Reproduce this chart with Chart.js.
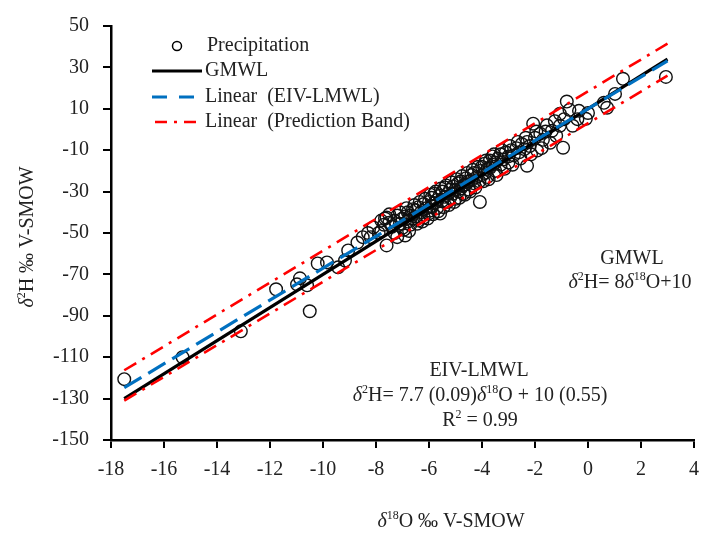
<!DOCTYPE html>
<html>
<head>
<meta charset="utf-8">
<script src="https://cdn.jsdelivr.net/npm/chart.js@4.4.1/dist/chart.umd.min.js"></script>
<style>
  html, body { margin: 0; padding: 0; background: #fff; }
  #wrap { width: 711px; height: 534px; }
</style>
</head>
<body>
<div id="wrap"><canvas id="grafico" width="711" height="534"></canvas></div>
<script>
// valores
const xTicks = [-18, -16, -14, -12, -10, -8, -6, -4, -2, 0, 2, 4];
const yTicks = [-150, -130, -110, -90, -70, -50, -30, -10, 10, 30, 50];

const precipitation = [
  [-17.5,-120.6],[-15.3,-110],[-13.1,-97.5],[-11.77,-77.2],[-10.98,-74.8],[-10.87,-71.9],
  [-10.6,-75.3],[-10.5,-87.8],[-10.2,-64.7],[-9.85,-64.2],[-9.43,-66.6],[-9.17,-63.3],
  [-9.05,-58.4],[-8.7,-54.6],[-8.5,-52],[-8.3,-50],
  [-8.2,-52],[-8.1,-47.3],[-7.9,-50],[-7.8,-49],[-7.7,-46],[-7.66,-43],[-7.6,-56],[-7.6,-42.5],
  [-7.5,-45],[-7.4,-47],[-7.3,-44],[-7.2,-52],[-7.2,-41.6],[-7.1,-45.5],[-7.0,-43],[-7.0,-47.5],
  [-6.9,-51.2],[-6.9,-42],[-6.8,-44.5],[-6.8,-40],[-6.7,-46],[-6.7,-41.5],[-6.6,-43],[-6.6,-38.5],
  [-6.5,-42],[-6.5,-39],[-6.4,-44],[-6.4,-37.5],[-6.3,-40],[-6.2,-42.5],[-6.2,-36],[-6.1,-38],
  [-6.0,-40.5],[-6.0,-35],[-5.96,-39.2],[-5.9,-33],[-5.9,-37],[-5.8,-35.5],[-5.8,-31],[-5.7,-34],
  [-5.7,-38],[-5.6,-32],[-5.58,-40.6],[-5.5,-30],[-5.5,-34.5],[-5.4,-28],[-5.4,-32.5],[-5.3,-31],
  [-5.3,-35],[-5.2,-29],[-5.2,-33],[-5.1,-27.5],[-5.1,-31],[-5.0,-29],[-5.0,-33.5],[-4.9,-26],
  [-4.9,-30],[-4.8,-25],[-4.8,-28.5],[-4.7,-27],[-4.7,-31],[-4.6,-23.5],[-4.6,-26.5],[-4.5,-25],
  [-4.5,-29],[-4.4,-22],[-4.4,-24.5],[-4.3,-21],[-4.3,-26],[-4.2,-23],[-4.1,-20],[-4.1,-25],
  [-4.08,-35],[-4.0,-22],[-4.0,-18],[-3.9,-21],[-3.9,-16.5],[-3.8,-19],[-3.8,-23],[-3.7,-15],
  [-3.7,-18.5],[-3.6,-17],[-3.6,-13],[-3.5,-16],[-3.5,-20],[-3.4,-14],[-3.3,-12],[-3.3,-17],
  [-3.2,-14.5],[-3.1,-11],[-3.0,-13],[-3.0,-16],[-2.9,-10],[-2.8,-12.5],[-2.7,-9],[-2.6,-11],
  [-2.5,-7],[-2.4,-9.5],[-2.3,-17.5],[-2.3,-6],[-2.2,-8],[-2.07,2.8],[-2.0,-4],[-1.92,-10.2],
  [-1.8,-2],[-1.7,-5],[-1.6,-1],[-1.43,-6.4],[-1.36,-0.6],[-1.2,-3],[-1.06,1.8],[-1.06,7.6],
  [-0.94,-8.8],[-0.8,13.5],[-0.7,9.5],[-0.58,1.8],[-0.4,5],[-0.34,9],[-0.08,5.2],[0.0,8],
  [0.6,12.9],[0.72,10.5],[1.02,17.2],[1.32,24.5],[2.94,25.4],
  [-7.8,-44],[-7.5,-41],[-7.3,-50],[-7.1,-40],[-6.95,-48.5],[-6.85,-38],[-6.75,-49],[-6.55,-36.5],
  [-6.45,-45.5],[-6.35,-35],[-6.25,-44.5],[-6.15,-33.5],[-6.05,-43],[-5.95,-31.5],[-5.85,-41],
  [-5.75,-30],[-5.65,-39.5],[-5.55,-28.5],[-5.45,-37.5],[-5.35,-27],[-5.25,-36.5],[-5.15,-25.5],
  [-5.05,-35],[-4.95,-24],[-4.85,-33],[-4.75,-22.5],[-4.65,-31.5],[-4.55,-21],[-4.45,-30],
  [-4.35,-19.5],[-4.25,-28],[-4.15,-18],[-3.95,-25],[-3.85,-15],[-3.75,-24],[-3.55,-12],
  [-3.45,-22],[-3.25,-10],[-3.15,-19],[-2.95,-8],[-2.85,-17],[-2.65,-6],[-2.55,-14],[-2.35,-4],
  [-2.15,-12],[-1.95,-1],[-1.75,-9],[-1.55,2],[-1.25,4],[-0.9,5]
];

// retas: extremos em x e respectivos valores de δ2H
const lineX = [-17.5, 3];
const gmwlY = [-130, 34];
const eivY = [-124.75, 33.1];
const bandUpperY = [-116.3, 41.5];
const bandLowerY = [-131, 26];

const FONT = '"Liberation Serif", "Times New Roman", serif';
const FS = 20;
const BLUE = '#0070C0';
const RED = '#FF0000';

function linha(ys) {
  return lineX.map((x, i) => ({ x: x, y: ys[i] }));
}

// desenha texto com partes em itálico / sobrescrito, centrado em cx
function textoRico(ctx, partes, cx, cy, size) {
  const fonte = (p) => (p.it ? 'italic ' : '') + (p.sup ? Math.round(size * 0.62) : size) + 'px ' + FONT;
  let total = 0;
  partes.forEach(p => { ctx.font = fonte(p); total += ctx.measureText(p.t).width; });
  let x = cx - total / 2;
  ctx.textBaseline = 'middle';
  ctx.textAlign = 'left';
  partes.forEach(p => {
    ctx.font = fonte(p);
    ctx.fillText(p.t, x, p.sup ? cy - size * 0.3 : cy);
    x += ctx.measureText(p.t).width;
  });
}

const anotacoes = {
  id: 'anotacoes',
  afterDraw(chart) {
    const ctx = chart.ctx;
    ctx.save();
    ctx.fillStyle = '#222';

    // legenda
    const lx0 = 152, lx1 = 202, tx = 207;
    const rows = [46, 71, 97, 122];
    ctx.strokeStyle = '#000';
    ctx.lineWidth = 1.5;
    ctx.beginPath(); ctx.arc(177, rows[0], 4.5, 0, Math.PI * 2); ctx.stroke();
    ctx.lineWidth = 3;
    ctx.beginPath(); ctx.moveTo(lx0, rows[1]); ctx.lineTo(lx1, rows[1]); ctx.stroke();
    ctx.strokeStyle = BLUE;
    ctx.setLineDash([15, 12]);
    ctx.beginPath(); ctx.moveTo(lx0, rows[2]); ctx.lineTo(lx1, rows[2]); ctx.stroke();
    ctx.strokeStyle = RED;
    ctx.lineWidth = 2.5;
    ctx.setLineDash([12, 7, 3, 7]);
    ctx.beginPath(); ctx.moveTo(lx0 + 3, rows[3]); ctx.lineTo(lx1 - 4, rows[3]); ctx.stroke();
    ctx.setLineDash([]);
    ctx.font = FS + 'px ' + FONT;
    ctx.textBaseline = 'middle';
    ctx.textAlign = 'left';
    ctx.fillText('Precipitation', tx, rows[0]);
    ctx.fillText('GMWL', tx - 2, rows[1]);
    ctx.fillText('Linear  (EIV-LMWL)', tx - 2, rows[2]);
    ctx.fillText('Linear  (Prediction Band)', tx - 2, rows[3]);

    // equações
    textoRico(ctx, [{ t: 'GMWL' }], 632, 259, FS);
    textoRico(ctx, [{ t: 'δ', it: true }, { t: '2', sup: true }, { t: 'H= 8' }, { t: 'δ', it: true },
      { t: '18', sup: true }, { t: 'O+10' }], 630, 283, FS);
    textoRico(ctx, [{ t: 'EIV-LMWL' }], 479, 371, FS);
    textoRico(ctx, [{ t: 'δ', it: true }, { t: '2', sup: true }, { t: 'H= 7.7 (0.09)' }, { t: 'δ', it: true },
      { t: '18', sup: true }, { t: 'O + 10 (0.55)' }], 480, 396, FS);
    textoRico(ctx, [{ t: 'R' }, { t: '2', sup: true }, { t: ' = 0.99' }], 480, 421, FS);

    // títulos dos eixos
    textoRico(ctx, [{ t: 'δ', it: true }, { t: '18', sup: true }, { t: 'O ‰ V-SMOW' }], 451, 522, FS);
    ctx.translate(28, 237);
    ctx.rotate(-Math.PI / 2);
    textoRico(ctx, [{ t: 'δ', it: true }, { t: '2', sup: true }, { t: 'H ‰ V-SMOW' }], 0, 0, FS);
    ctx.restore();
  }
};

const ctx = document.getElementById('grafico').getContext('2d');
new Chart(ctx, {
  type: 'scatter',
  data: {
    datasets: [
      {
        label: 'Precipitation',
        data: precipitation.map(p => ({ x: p[0], y: p[1] })),
        pointStyle: 'circle', pointRadius: 6.3, pointBorderWidth: 1.4,
        borderColor: '#111', backgroundColor: 'rgba(0,0,0,0)', order: 4
      },
      {
        label: 'GMWL', type: 'line', data: linha(gmwlY),
        borderColor: '#000', borderWidth: 3.2, pointRadius: 0, order: 3
      },
      {
        label: 'Linear (Prediction Band)', type: 'line', data: linha(bandUpperY),
        borderColor: RED, borderWidth: 2.6, borderDash: [14, 7, 3, 7], pointRadius: 0, order: 2
      },
      {
        label: 'Linear (Prediction Band) ', type: 'line', data: linha(bandLowerY),
        borderColor: RED, borderWidth: 2.6, borderDash: [14, 7, 3, 7], pointRadius: 0, order: 2
      },
      {
        label: 'Linear (EIV-LMWL)', type: 'line', data: linha(eivY),
        borderColor: BLUE, borderWidth: 3.2, borderDash: [20, 8], pointRadius: 0, order: 1
      }
    ]
  },
  options: {
    responsive: false,
    animation: false,
    devicePixelRatio: 1,
    layout: { padding: { left: 0, right: 17, top: 25, bottom: 0 } },
    plugins: { legend: { display: false }, tooltip: { enabled: false } },
    scales: {
      x: {
        type: 'linear', min: -18, max: 4,
        afterFit: (s) => { s.height = 94; },
        afterBuildTicks: (s) => { s.ticks = xTicks.map(v => ({ value: v })); },
        ticks: { color: '#222', font: { family: FONT, size: FS }, padding: 10 },
        grid: { drawOnChartArea: false, drawTicks: true, tickLength: 8, color: '#000', lineWidth: 2 },
        border: { color: '#000', width: 2.5 }
      },
      y: {
        type: 'linear', min: -150, max: 50,
        afterFit: (s) => { s.width = 111; },
        afterBuildTicks: (s) => { s.ticks = yTicks.map(v => ({ value: v })); },
        ticks: { color: '#222', font: { family: FONT, size: FS }, padding: 14 },
        grid: { drawOnChartArea: false, drawTicks: true, tickLength: 8, color: '#000', lineWidth: 2 },
        border: { color: '#000', width: 2.5 }
      }
    }
  },
  plugins: [anotacoes]
});
</script>
</body>
</html>
